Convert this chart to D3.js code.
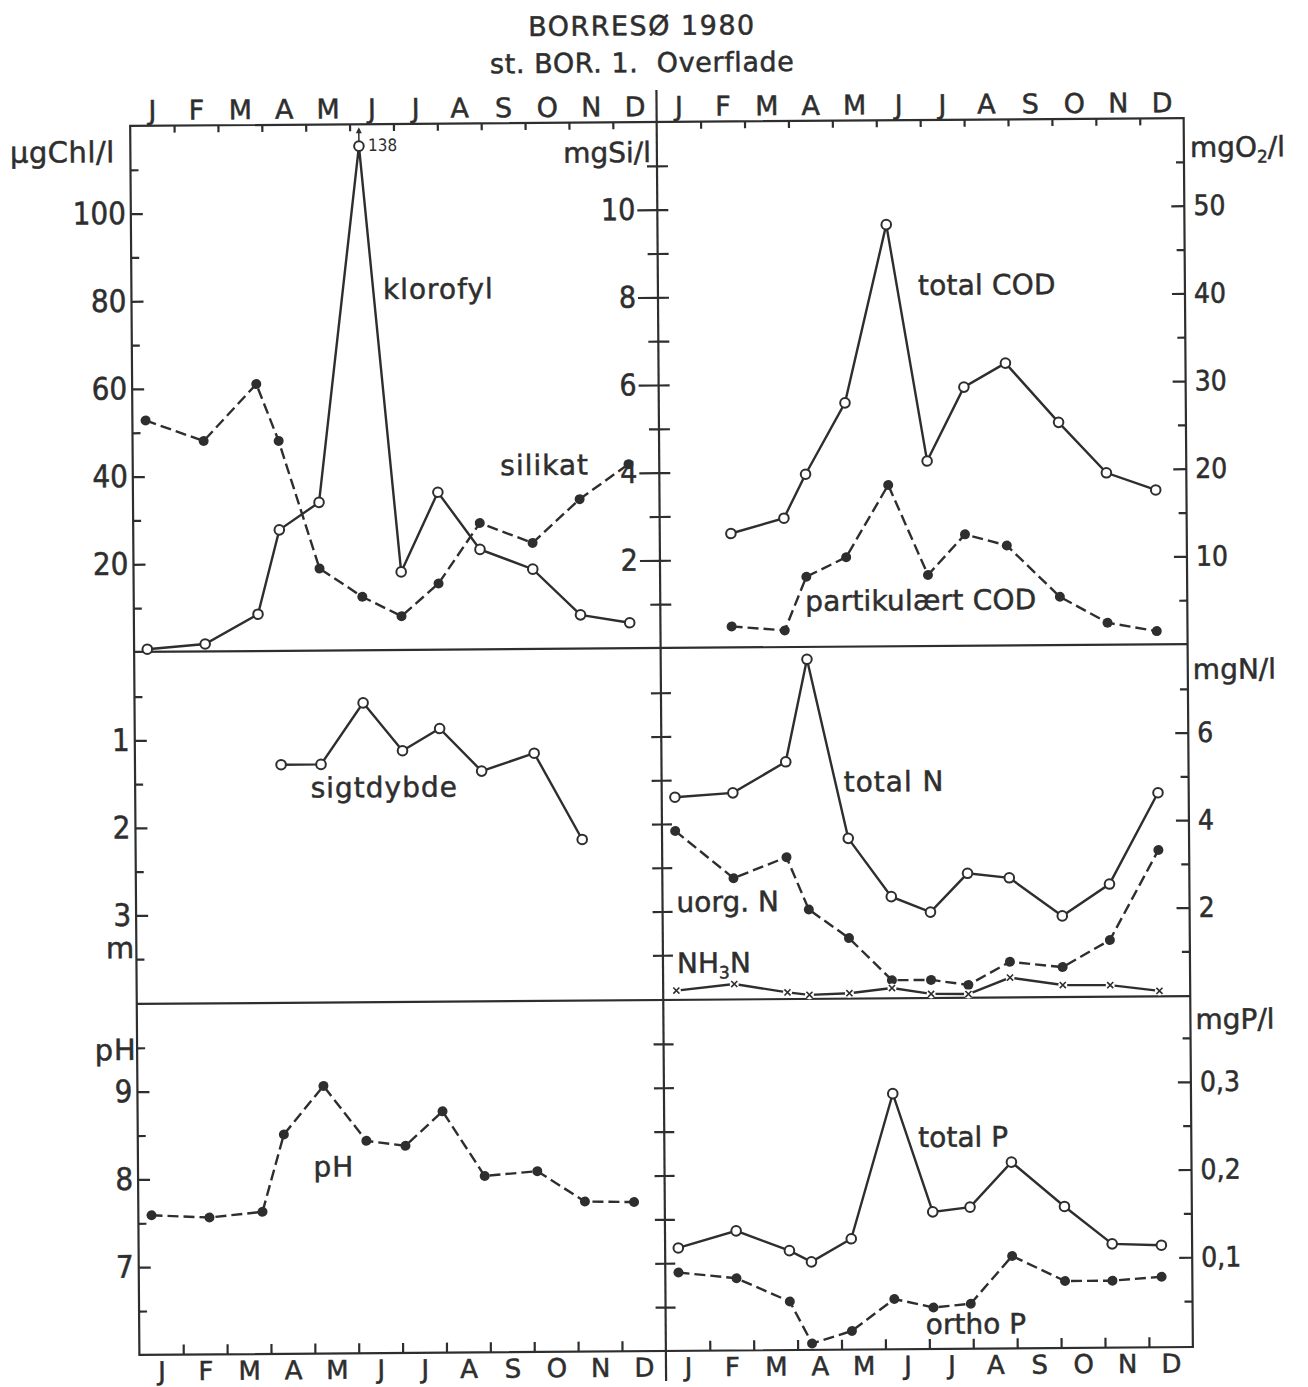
<!DOCTYPE html>
<html>
<head>
<meta charset="utf-8">
<script src="https://cdn.jsdelivr.net/npm/d3@7"></script>
<style>
  body { margin: 0; background: #fff; }
</style>
</head>
<body>
<div id="wrapper"></div>
<script>
// month letters and sampling dates (months since 1 Jan)
const months = ["J", "F", "M", "A", "M", "J", "J", "A", "S", "O", "N", "D"]
const sampleMonths = [0.30, 1.62, 2.83, 3.33, 4.24, 5.21, 6.10, 6.95, 7.90, 9.10, 10.18, 11.30]

// top left: µgChl/l and mgSi/l
const klorofyl = [0.6, 1.7, 8.4, 27.6, 33.8, 138, 17.8, 35.9, 22.8, 18.2, 7.7, 5.8]
const silikat = [5.28, 4.80, 6.09, 4.79, 1.87, 1.22, 0.77, 1.51, 2.88, 2.42, 3.41, 4.20]
// top right: mgO2/l
const totalCOD = [null, 13.0, 14.7, 19.7, 27.8, 48.1, 21.1, 29.5, 32.2, 25.4, 19.6, 17.6]
const partCOD = [null, 2.4, 1.9, 8.0, 10.2, 18.4, 8.1, 12.7, 11.4, 5.5, 2.5, 1.5]
// middle left: m
const sigtdybde = [null, null, null, 1.29, 1.29, 0.59, 1.14, 0.89, 1.38, 1.18, 2.17, null]
// middle right: mgN/l
const totalN = [4.61, 4.70, 5.40, 7.74, 3.64, 2.30, 1.94, 2.82, 2.71, 1.83, 2.55, 4.63]
const uorgN = [3.84, 2.75, 3.22, 2.02, 1.36, 0.39, 0.39, 0.27, 0.79, 0.66, 1.27, 3.32]
const nh3N = [0.19, 0.33, 0.13, 0.07, 0.10, 0.21, 0.07, 0.06, 0.43, 0.25, 0.24, 0.10]
// bottom left: pH
const pH = [7.59, 7.56, 7.62, 8.50, 9.05, 8.42, 8.36, 8.75, 8.01, 8.06, 7.71, 7.70]
// bottom right: mgP/l
const totalP = [0.115, 0.134, 0.111, 0.098, 0.124, 0.289, 0.154, 0.159, 0.210, 0.159, 0.116, 0.114]
const orthoP = [0.087, 0.080, 0.053, 0.005, 0.019, 0.055, 0.045, 0.049, 0.103, 0.074, 0.074, 0.078]

// tick values
const chlMinor = [10, 30, 50, 70, 90, 110], chlMajor = [20, 40, 60, 80, 100]
const siMinor = [1, 3, 5, 7, 9, 11], siMajor = [2, 4, 6, 8, 10]
const o2Minor = [5, 15, 25, 35, 45, 55], o2Major = [10, 20, 30, 40, 50]
const depthMinor = [0.5, 1.5, 2.5, 3.5], depthMajor = [1, 2, 3]
const nMinor = [1, 3, 5, 7], nMajor = [2, 4, 6]
const pHMinor = [6.5, 7.5, 8.5, 9.5], pHMajor = [7, 8, 9]
const pMinor = [0.05, 0.15, 0.25, 0.35], pMajor = [0.1, 0.2, 0.3]

const chlClip = 115 // off-scale values are plotted here with an arrow

const ink = "#2e2e2e"
const numFont = '"DejaVu Sans Condensed", "DejaVu Sans", sans-serif'
const textFont = '"DejaVu Sans", sans-serif'

const dims = {
  width: 1308, height: 1387,
  left: 134.5, mid: 661, right: 1188,
  top: 122, row1: 648, row2: 1000, bottom: 1351,
}

const svg = d3.select("#wrapper").append("svg")
  .attr("width", dims.width)
  .attr("height", dims.height)
svg.append("rect").attr("width", dims.width).attr("height", dims.height).attr("fill", "#fff")

// the scanned sheet sits slightly rotated
const chart = svg.append("g").attr("transform", "rotate(-0.43 660 700)")

// scales
const xL = d3.scaleLinear().domain([0, 12]).range([dims.left, dims.mid])
const xR = d3.scaleLinear().domain([0, 12]).range([dims.mid, dims.right])
const yChl = d3.scaleLinear().domain([0, 120]).range([dims.row1, dims.top])
const ySi = d3.scaleLinear().domain([0, 12]).range([dims.row1, dims.top])
const yO2 = d3.scaleLinear().domain([0, 60]).range([dims.row1, dims.top])
const yDepth = d3.scaleLinear().domain([0, 4]).range([dims.row1 + 1, dims.row2 - 1])
const yN = d3.scaleLinear().domain([0, 8]).range([dims.row2 - 1, dims.row1 + 1])
const ypH = d3.scaleLinear().domain([6, 10]).range([dims.bottom, dims.row2])
const yP = d3.scaleLinear().domain([0, 0.4]).range([dims.bottom - 2, dims.row2 - 2])

function styleAxis(g, size) {
  g.select(".domain").remove()
  g.selectAll("line").attr("stroke", ink).attr("stroke-width", 2.2)
  g.selectAll("text")
    .attr("fill", ink)
    .attr("stroke", ink)
    .attr("stroke-width", 0.5)
    .style("font-family", numFont)
    .style("font-stretch", "condensed")
    .style("font-size", size + "px")
}

function addAxis(axis, x, size) {
  const g = chart.append("g").attr("transform", `translate(${x},0)`).call(axis)
  styleAxis(g, size || 10)
  return g
}

// left side value axes: ticks inwards, labels outside
function leftAxis(y, x, minor, major, fmt, size) {
  addAxis(d3.axisLeft(y).tickValues(minor).tickSizeInner(-8).tickSizeOuter(0).tickFormat(""), x)
  addAxis(d3.axisLeft(y).tickValues(major).tickSizeInner(-12).tickSizeOuter(0).tickPadding(5).tickFormat(fmt), x, size)
}
// right side value axes
function rightAxis(y, x, minor, major, fmt, size) {
  addAxis(d3.axisRight(y).tickValues(minor).tickSizeInner(-8).tickSizeOuter(0).tickFormat(""), x)
  addAxis(d3.axisRight(y).tickValues(major).tickSizeInner(-13).tickSizeOuter(0).tickPadding(9).tickFormat(fmt), x, size)
}
// ticks crossing the middle line
function midTicks(y, values, leftLen, rightLen) {
  addAxis(d3.axisLeft(y).tickValues(values).tickSizeInner(leftLen).tickSizeOuter(0).tickFormat(""), dims.mid)
  addAxis(d3.axisRight(y).tickValues(values).tickSizeInner(rightLen).tickSizeOuter(0).tickFormat(""), dims.mid)
}

const fmtNum = d => d3.format("d")(d)
const fmtComma = d => d3.format(".1f")(d).replace(".", ",")

leftAxis(yChl, dims.left, chlMinor, chlMajor, fmtNum, 31)
leftAxis(yDepth, dims.left, depthMinor, depthMajor, fmtNum, 31)
leftAxis(ypH, dims.left, pHMinor, pHMajor, fmtNum, 31)

midTicks(ySi, siMinor, 10, 11)
addAxis(d3.axisLeft(ySi).tickValues(siMajor).tickSizeInner(20).tickSizeOuter(0).tickPadding(2).tickFormat(fmtNum), dims.mid, 30)
addAxis(d3.axisRight(ySi).tickValues(siMajor).tickSizeInner(11).tickSizeOuter(0).tickFormat(""), dims.mid)
midTicks(yDepth, d3.merge([depthMinor, depthMajor]), 10, 10)
midTicks(ypH, d3.merge([pHMinor, pHMajor]), 10, 10)

rightAxis(yO2, dims.right, o2Minor, o2Major, fmtNum, 28)
rightAxis(yN, dims.right, nMinor, nMajor, fmtNum, 28)
rightAxis(yP, dims.right, pMinor, pMajor, fmtComma, 28)

// month axes
const boundaries = d3.range(1, 12)
const centers = d3.range(0.5, 12, 1)
const monthFmt = d => months[Math.floor(d)]
;[xL, xR].forEach(x => {
  const top = chart.append("g").attr("transform", `translate(0,${dims.top})`)
  top.call(d3.axisTop(x).tickValues(boundaries).tickSizeInner(-7).tickSizeOuter(0).tickFormat(""))
  styleAxis(top)
  const topLab = chart.append("g").attr("transform", `translate(0,${dims.top})`)
    .call(d3.axisTop(x).tickValues(centers).tickSize(0).tickPadding(6).tickFormat(monthFmt))
  styleAxis(topLab, 27)
  topLab.selectAll("text").style("font-family", textFont).style("font-stretch", null)

  const bot = chart.append("g").attr("transform", `translate(0,${dims.bottom})`)
  bot.call(d3.axisBottom(x).tickValues(boundaries).tickSizeInner(-10).tickSizeOuter(0).tickFormat(""))
  styleAxis(bot)
  const botLab = chart.append("g").attr("transform", `translate(0,${dims.bottom})`)
    .call(d3.axisBottom(x).tickValues(centers).tickSize(0).tickPadding(7).tickFormat(monthFmt))
  styleAxis(botLab, 26)
  botLab.selectAll("text").style("font-family", textFont).style("font-stretch", null)
})

// frame
const frame = chart.append("g").attr("stroke", ink).attr("stroke-width", 2.2).attr("fill", "none")
frame.append("path").attr("d", `M${dims.left},${dims.top}H${dims.right}V${dims.bottom}H${dims.left}Z`)
frame.append("path").attr("d", `M${dims.left},${dims.row1}H${dims.right}`)
frame.append("path").attr("d", `M${dims.left},${dims.row2}H${dims.right}`)
frame.append("path").attr("d", `M${dims.mid},90V1381`)

// series
function drawSeries(x, y, values, opts) {
  const plotted = v => (opts.clip && v > opts.clip.max ? opts.clip.at : v)
  const pts = sampleMonths.map((m, i) => ({ m, v: values[i] })).filter(d => d.v != null)
  const line = d3.line().x(d => x(d.m)).y(d => y(plotted(d.v)))
  chart.append("path")
    .datum(pts)
    .attr("d", line)
    .attr("fill", "none")
    .attr("stroke", ink)
    .attr("stroke-width", 2.4)
    .attr("stroke-dasharray", opts.dashed ? "11,5" : null)

  const g = chart.append("g")
  const marks = g.selectAll("g").data(pts).enter().append("g")
    .attr("transform", d => `translate(${x(d.m)},${y(plotted(d.v))})`)
  if (opts.marker === "open") {
    marks.append("circle").attr("r", 4.8).attr("fill", "#fff").attr("stroke", ink).attr("stroke-width", 2)
  } else if (opts.marker === "dot") {
    marks.append("circle").attr("r", 5).attr("fill", ink)
  } else {
    marks.append("circle").attr("r", 4.5).attr("fill", "#fff")
    marks.append("path").attr("d", d3.symbol(d3.symbolX, 26)).attr("fill", "none").attr("stroke", ink).attr("stroke-width", 1.6)
  }
  return pts.filter(d => opts.clip && d.v > opts.clip.max)
}

const clipped = drawSeries(xL, yChl, klorofyl, { marker: "open", clip: { max: 120, at: chlClip } })
drawSeries(xL, ySi, silikat, { marker: "dot", dashed: true })
drawSeries(xR, yO2, totalCOD, { marker: "open" })
drawSeries(xR, yO2, partCOD, { marker: "dot", dashed: true })
drawSeries(xL, yDepth, sigtdybde, { marker: "open" })
drawSeries(xR, yN, totalN, { marker: "open" })
drawSeries(xR, yN, uorgN, { marker: "dot", dashed: true })
drawSeries(xR, yN, nh3N, { marker: "x" })
drawSeries(xL, ypH, pH, { marker: "dot", dashed: true })
drawSeries(xR, yP, totalP, { marker: "open" })
drawSeries(xR, yP, orthoP, { marker: "dot", dashed: true })

// off-scale peak: arrow and true value
clipped.forEach(d => {
  const cx = xL(d.m), cy = yChl(chlClip)
  chart.append("path")
    .attr("d", `M${cx},${cy - 5}V${dims.top + 5}`)
    .attr("stroke", ink).attr("stroke-width", 1.5)
  chart.append("path")
    .attr("d", `M${cx - 3},${dims.top + 9}L${cx},${dims.top + 3}L${cx + 3},${dims.top + 9}Z`)
    .attr("fill", ink)
  chart.append("text")
    .attr("x", cx + 9).attr("y", cy + 5)
    .attr("fill", ink)
    .style("font-family", numFont).style("font-stretch", "condensed").style("font-size", "17px")
    .text(d.v)
})

// texts
function label(str, x, y, size, anchor) {
  return chart.append("text")
    .attr("x", x).attr("y", y)
    .attr("fill", ink)
    .attr("stroke", ink)
    .attr("stroke-width", 0.5)
    .attr("text-anchor", anchor || "start")
    .style("font-family", textFont)
    .style("font-size", (size || 28) + "px")
    .style("letter-spacing", "1px")
    .style("white-space", "pre")
    .text(str)
}

label("BORRESØ 1980", 647, 35, 27, "middle").style("letter-spacing", "1.5px")
label("st. BOR. 1.  Overflade", 647, 72, 27, "middle").style("letter-spacing", "0.6px")

label("µgChl/l", 14, 158, 29).style("letter-spacing", "0.5px")
label("mgSi/l", 655, 162, 28, "end").style("letter-spacing", "0px")
label("klorofyl", 386, 297)
label("silikat", 502, 474)
label("total COD", 921, 297).style("letter-spacing", "0.2px")
label("partikulært COD", 806, 612).style("letter-spacing", "0.2px")
label("sigtdybde", 310, 795)
label("m", 104, 954, 29)
label("total N", 843, 793)
label("uorg. N", 675, 912).style("letter-spacing", "0px")
label("pH", 92, 1056, 29)
label("pH", 310, 1174)
label("total P", 915, 1149).style("letter-spacing", "0px")
label("ortho P", 921, 1336).style("letter-spacing", "0px")

const o2 = label("mgO", 1194, 161, 28).style("letter-spacing", "0px")
o2.append("tspan").attr("dy", 6).style("font-size", "17px").text("2")
o2.append("tspan").attr("dy", -6).text("/l")
label("mgN/l", 1193, 683, 28).style("letter-spacing", "0px")
label("mgP/l", 1193, 1033, 28).style("letter-spacing", "0px")
const nh3 = label("NH", 675, 973, 28).style("letter-spacing", "0px")
nh3.append("tspan").attr("dy", 6).style("font-size", "17px").text("3")
nh3.append("tspan").attr("dy", -6).text("N")
</script>
</body>
</html>
